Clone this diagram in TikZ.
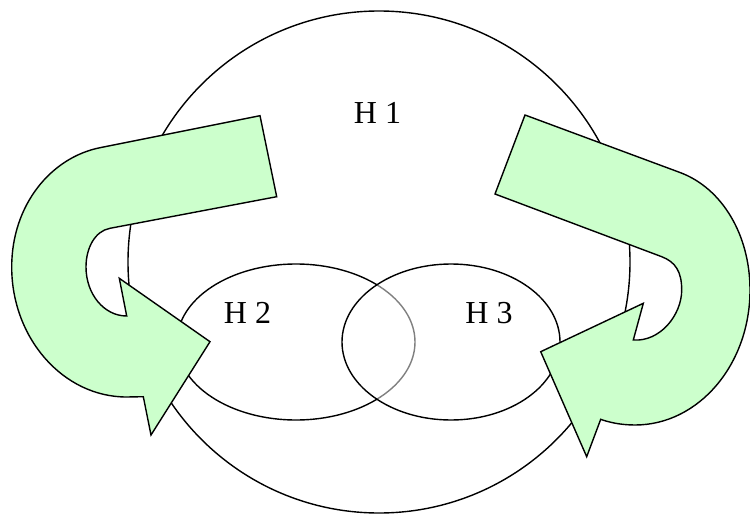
\documentclass[tikz,border=0pt]{standalone}
\usepackage{fontspec}
\setmainfont{Liberation Serif}
\definecolor{arrowgreen}{HTML}{CCFFCC}
\tikzset{
  outline/.style={draw=black, line width=1.4pt},
  setbox/.style={outline, fill=white},
  uarrow/.style={outline, fill=arrowgreen, line join=miter},
  lbl/.style={font=\fontsize{32}{38}\selectfont, anchor=base, inner sep=0pt}
}
\begin{document}
\begin{tikzpicture}[x=1pt,y=-1pt]
\useasboundingbox (0,0) rectangle (750,514);
% big set H1
\draw[setbox] (379,262) circle [radius=251];
% H2 and H3
\draw[setbox] (296,342) ellipse [x radius=119, y radius=78];
\draw[outline, fill=white, fill opacity=0.5] (451,342) ellipse [x radius=109, y radius=78];
% labels
\node[lbl] (h1) at (377.5,123.3) {H 1};
\node[lbl] (h2) at (247.5,323.3) {H 2};
\node[lbl] (h3) at (489,323.3) {H 3};
% left U-turn arrow
\draw[uarrow] (260,115.7) -- (100,147.7)
  .. controls (51,157.5) and (11.7,205) .. (11.7,267)
  .. controls (11.7,338) and (63,397) .. (126.7,397)
  -- (143.3,396.7) -- (151,435) -- (210,341.7) -- (119.3,278.3) -- (126.7,316)
  .. controls (104,316) and (86,294) .. (86,267)
  .. controls (86,248) and (95,231) .. (110,228.3)
  -- (276.7,196.7) -- cycle;
% right U-turn arrow
\draw[uarrow] (525,115) -- (680,172.5)
  .. controls (722.2,188.2) and (750,235) .. (750,290)
  .. controls (750,364.6) and (698.5,425) .. (635,425)
  .. controls (620,425) and (608,422) .. (600.7,419.3)
  -- (586.7,456.7) -- (540.7,351.7) -- (643.3,303.3) -- (633.3,340)
  .. controls (660,342) and (681.7,315) .. (681.7,290)
  .. controls (681.7,272) and (675.7,262) .. (661.7,256.7)
  -- (495,194) -- cycle;
\end{tikzpicture}
\end{document}
